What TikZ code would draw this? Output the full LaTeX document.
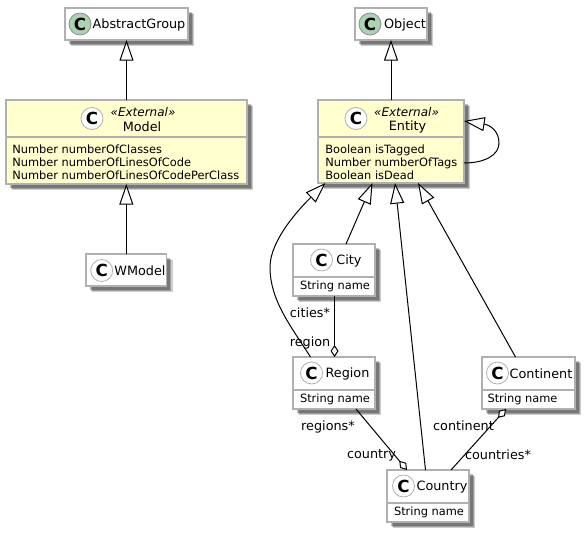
\documentclass[tikz,border=0pt]{standalone}
\usepackage{fontspec}
\setmainfont{DejaVu Sans}
\usetikzlibrary{arrows.meta,shadows,calc}
\definecolor{boxline}{HTML}{B0B0B0}
\definecolor{extfill}{HTML}{FEFECE}
\definecolor{spotgreen}{HTML}{ADD1B2}
\newcommand{\fname}{\fontsize{9.6}{11}\selectfont}
\newcommand{\fster}{\fontsize{9}{11}\selectfont\itshape}
\newcommand{\fmem}{\fontsize{8.55}{9.75}\selectfont}
\tikzset{
  x=0.75pt,y=-0.75pt,
  umlbox/.style={draw=boxline,line width=1.1pt,fill=white,rectangle,inner sep=0,outer sep=0,anchor=north west,
    drop shadow={shadow xshift=4.4pt,shadow yshift=-4.4pt,fill=black,opacity=0.2},
    drop shadow={shadow xshift=3.6pt,shadow yshift=-3.6pt,fill=black,opacity=0.22},
    drop shadow={shadow xshift=2.8pt,shadow yshift=-2.8pt,fill=black,opacity=0.25}},
  extbox/.style={umlbox,fill=extfill},
  sepline/.style={draw=boxline,line width=1.1pt},
  spot/.style={circle,draw=boxline,line width=0.6pt,minimum size=16.5pt,inner sep=0,fill=white,font=\fontsize{12.5}{13}\selectfont\bfseries},
  greenspot/.style={spot,fill=spotgreen,draw=black!45},
  nametext/.style={inner sep=0,font=\fname},
  stertext/.style={inner sep=0,font=\fster},
  memtext/.style={inner sep=0,font=\fmem,align=left},
  rolelabel/.style={inner sep=0,font=\fname},
  conn/.style={draw=black,line width=0.75pt},
  inherit/.style={conn,-{Triangle[open,fill=white,length=15.5pt,width=10.5pt]}},
  aggreg/.style={conn,-{Diamond[open,fill=white,length=9pt,width=6pt]}}
}
\begin{document}
\begin{tikzpicture}
\useasboundingbox (0,0) rectangle (585,532);
% boxes
\node[umlbox,minimum width=92.25pt,minimum height=24pt] (abs) at (65,8) {};
\node[umlbox,minimum width=54pt,minimum height=24pt] (obj) at (355,8) {};
\node[extbox,minimum width=180.75pt,minimum height=63pt] (model) at (6,100) {};
\node[extbox,minimum width=109.5pt,minimum height=62.25pt] (entity) at (318,100) {};
\node[umlbox,minimum width=60.5pt,minimum height=24pt] (wmodel) at (86,254) {};
\node[umlbox,minimum width=61.5pt,minimum height=39pt] (city) at (293,244) {};
\node[umlbox,minimum width=61.5pt,minimum height=39pt] (region) at (293,357) {};
\node[umlbox,minimum width=69.75pt,minimum height=39pt] (continent) at (482,357) {};
\node[umlbox,minimum width=61.5pt,minimum height=39pt] (country) at (387,470) {};
% separators
\draw[sepline] ($(model.north west)+(0,37)$) -- ($(model.north east)+(0,37)$);
\draw[sepline] ($(entity.north west)+(0,37)$) -- ($(entity.north east)+(0,37)$);
\draw[sepline] ($(city.north west)+(0,33)$) -- ($(city.north east)+(0,33)$);
\draw[sepline] ($(region.north west)+(0,33)$) -- ($(region.north east)+(0,33)$);
\draw[sepline] ($(continent.north west)+(0,33)$) -- ($(continent.north east)+(0,33)$);
\draw[sepline] ($(country.north west)+(0,33)$) -- ($(country.north east)+(0,33)$);
% spots and titles
\node[greenspot] (absC) at (80,24) {C};
\node[nametext] (absT) at (139,25) {AbstractGroup};
\node[greenspot] (objC) at (370,24) {C};
\node[nametext] (objT) at (405,25) {Object};
\node[spot] (modelC) at (92,118.5) {C};
\node[stertext] (modelS) at (143,112) {«External»};
\node[nametext] (modelT) at (142,127) {Model};
\node[spot] (entityC) at (356,118.5) {C};
\node[stertext] (entityS) at (406.5,112) {«External»};
\node[nametext] (entityT) at (407.5,127) {Entity};
\node[spot] (wmodelC) at (101.7,270.5) {C};
\node[nametext] (wmodelT) at (140,271) {WModel};
\node[spot] (cityC) at (321.5,260) {C};
\node[nametext] (cityT) at (349,260.5) {City};
\node[spot] (regionC) at (311.5,373) {C};
\node[nametext] (regionT) at (347.5,374) {Region};
\node[spot] (continentC) at (497.5,373) {C};
\node[nametext] (continentT) at (541,374) {Continent};
\node[spot] (countryC) at (403.5,486) {C};
\node[nametext] (countryT) at (442,487) {Country};
% members
\node[memtext,anchor=north west] (modelM) at (12,144.5) {Number numberOfClasses\\Number numberOfLinesOfCode\\Number numberOfLinesOfCodePerClass};
\node[memtext,anchor=north west] (entityM) at (325,144.5) {Boolean isTagged\\Number numberOfTags\\Boolean isDead};
\node[memtext] (cityM) at (335,286.5) {String name};
\node[memtext] (regionM) at (335,399.5) {String name};
\node[memtext] (continentM) at (522.5,399.5) {String name};
\node[memtext] (countryM) at (429,512.5) {String name};
% inheritance
\draw[inherit] (model.north -| abs.south) -- (abs.south);
\draw[inherit] (wmodel.north) -- (wmodel.north |- model.south);
\draw[inherit] (entity.north -| obj.south) -- (obj.south);
\draw[inherit] ($(entity.south east)+(0,-20)$) .. controls (485,163) and (499,155) .. (499,143) .. controls (499,131) and (490,125) .. ($(entity.north east)+(0,21)$);
\draw[inherit] ($(city.north west)+(53,0)$) -- ($(entity.south west)+(54.5,0)$);
\draw[inherit] ($(region.north west)+(17.5,0)$) .. controls (290,325) and (270,300) .. (270,267) .. controls (270,240) and (300,208) .. ($(entity.south west)+(7.5,0)$);
\draw[inherit] ($(country.north west)+(38.5,0)$) -- ($(entity.south west)+(77,0)$);
\draw[inherit] ($(continent.north west)+(33.5,0)$) -- ($(entity.south west)+(100,0)$);
% aggregation
\draw[aggreg] ($(city.south west)+(41.5,0)$) -- ($(region.north west)+(41.5,0)$);
\draw[aggreg] ($(region.south west)+(63,0)$) -- ($(country.north west)+(20,0)$);
\draw[aggreg] ($(country.north west)+(64,0)$) -- ($(continent.south west)+(24,0)$);
% role labels
\node[rolelabel] (l1) at (310,313) {cities*};
\node[rolelabel] (l2) at (310,342.5) {region};
\node[rolelabel] (l3) at (328,426.5) {regions*};
\node[rolelabel] (l4) at (371.5,455.5) {country};
\node[rolelabel] (l5) at (463.5,426) {continent};
\node[rolelabel] (l6) at (498,455) {countries*};
\end{tikzpicture}
\end{document}
